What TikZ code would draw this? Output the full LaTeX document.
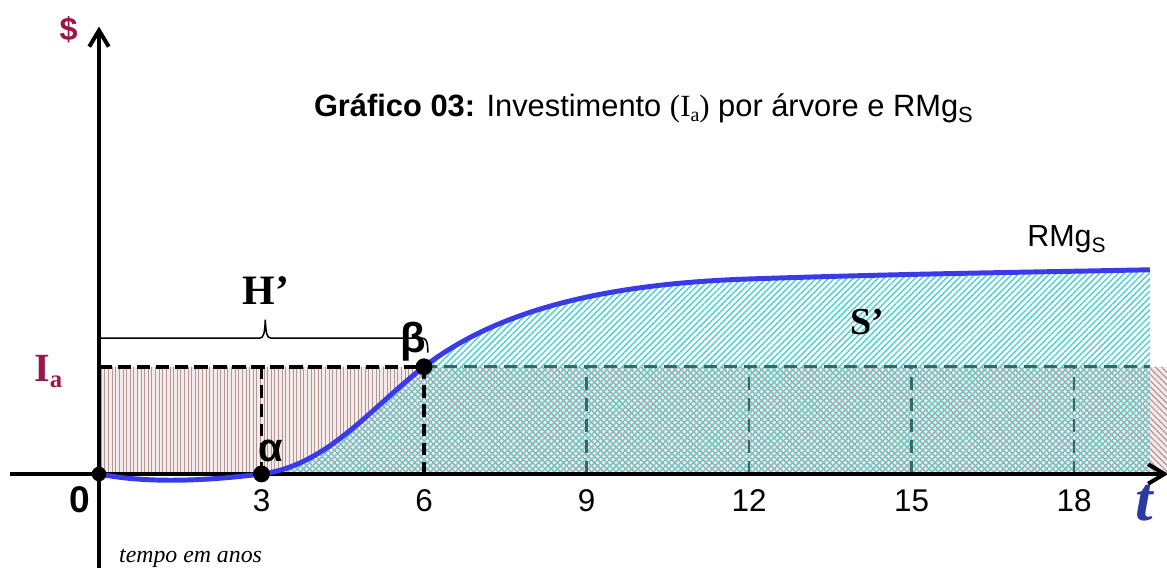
\documentclass[tikz,border=0pt]{standalone}
\usepackage{fontspec}
\setmainfont{Liberation Sans}
\newfontfamily\serifont{Liberation Serif}
\usetikzlibrary{calc,positioning,patterns.meta,arrows.meta}
\definecolor{vinho}{HTML}{9A1848}
\definecolor{curveblue}{HTML}{3A3AE8}
\definecolor{tblue}{HTML}{2B3A9E}
\definecolor{hatchcyan}{HTML}{55D2D2}
\definecolor{hatchbrown}{HTML}{B39898}
\definecolor{hatchpink}{HTML}{B49494}
\definecolor{dashteal}{HTML}{2F6B6B}
\definecolor{pinkbg}{HTML}{F4EAEA}
\newcommand{\Ialevel}{1.98}

\begin{document}
\begin{tikzpicture}[x=1cm,y=1cm,
    ptdot/.style={circle,fill=black,inner sep=0pt,minimum size=0.31cm},
    ticklbl/.style={font=\fontsize{16.5}{18}\selectfont,inner sep=0pt,anchor=base},
    vdashblack/.style={line width=1.6pt,dash pattern=on 6.5pt off 3.5pt},
    vdashteal/.style={dashteal,line width=1.4pt,dash pattern=on 7pt off 4pt}]
        \useasboundingbox (-1.8276,-1.735) rectangle (19.716,8.75);
        \coordinate (o) at (0,0);
        \coordinate (a) at (3,0);
        \coordinate (b) at (6,\Ialevel);
        \coordinate (e) at (19.4,3.77);
        \coordinate (r) at (19.716,\Ialevel);
        \coordinate (ia) at (0,\Ialevel);
        % areas
        \fill[pinkbg] (o) rectangle (r);
        \fill[pattern={Lines[angle=90,distance=1.9pt,line width=0.5pt]},pattern color=hatchbrown]
          (o) -- (a) .. controls (4.2,0.15) and (5,1.2) .. (b) -- (ia) -- cycle;
        \fill[pattern={Lines[angle=-45,distance=2.3pt,line width=0.6pt]},pattern color=hatchpink]
          (a) .. controls (4.2,0.15) and (5,1.2) .. (b) -- (r) -- (r |- o) -- cycle;
        \fill[pattern={Lines[angle=45,distance=2.3pt,line width=0.8pt]},pattern color=hatchcyan]
          (a) .. controls (4.2,0.15) and (5,1.2) .. (b) .. controls (7.2,2.9) and (9,3.5) .. (12,3.6)
          .. controls (15,3.7) and (17,3.72) .. (e) -- (e |- o) -- cycle;
        % tracejados
        \draw[line width=2.1pt,dash pattern=on 7pt off 3pt] (ia) -- (b);
        \draw[dashteal,line width=1.4pt,dash pattern=on 7pt off 3.5pt] (b) -- (e |- b);
        \foreach \x in {3,6}
          \draw[vdashblack] (\x,0) coordinate (v\x) -- (\x,\Ialevel);
        \foreach \x in {9,12,15,18}
          \draw[vdashteal] (\x,0) coordinate (v\x) -- (\x,\Ialevel);
        % eixos
        \draw[line width=2.1pt,-{Straight Barb[length=0.3cm,width=0.36cm]}] (0,-1.74) coordinate (ybot) -- (0,8.26) coordinate (ytop);
        \draw[line width=2.1pt,-{Straight Barb[length=0.3cm,width=0.36cm]}] (-1.64,0) coordinate (xleft) -- (19.74,0) coordinate (xright);
        % curva
        \draw[curveblue,line width=2.6pt] (o) .. controls (1,-0.2) and (2.2,-0.1) .. (a)
          .. controls (4.2,0.15) and (5,1.2) .. (b) .. controls (7.2,2.9) and (9,3.5) .. (12,3.6)
          .. controls (15,3.7) and (17,3.72) .. (e);
        % chave
        \coordinate (hl) at (0,2.51);
        \coordinate (htip) at (3.07,2.85);
        \coordinate (hr) at (6.07,2.24);
        \draw[line width=0.8pt] (hl) -- (2.97,2.51) .. controls (3.04,2.51) and (3.06,2.6) .. (htip)
          .. controls (3.08,2.6) and (3.10,2.51) .. (3.17,2.51) -- (5.95,2.51)
          .. controls (6.04,2.51) and (6.07,2.45) .. (hr);
        % pontos
        \node[ptdot,minimum size=0.27cm] (p0) at (o) {};
        \node[ptdot] (alpha) at (a) {};
        \node[ptdot] (beta) at (b) {};
        \node[font=\bfseries\fontsize{22}{24}\selectfont,inner sep=0pt] (betalbl) at ($(beta)+(-0.2,0.46)$) {β};
        \node[font=\bfseries\fontsize{21}{23}\selectfont,inner sep=0pt] (alphalbl) at ($(alpha)+(0.18,0.42)$) {α};
        % textos
        \node[font=\bfseries\fontsize{17}{19}\selectfont,text=vinho,inner sep=0pt] (dolar) at (-0.56,8.2) {\$};
        \node[font=\serifont\bfseries\fontsize{21}{23}\selectfont,text=vinho,inner sep=0pt,anchor=base west] (ialbl) at (-1.2,1.70)
          {I\raisebox{-0.3ex}{\fontsize{13}{14}\selectfont a}};
        \node[anchor=base,inner sep=0pt,font=\fontsize{16.2}{18}\selectfont] (titulo) at (10.05,6.6)
          {\textbf{Gráfico 03:} Investimento {\serifont(I\raisebox{-0.35ex}{\fontsize{10.5}{11}\selectfont a})} por árvore e RMg\raisebox{-0.35ex}{\fontsize{11.5}{12}\selectfont S}};
        \node[anchor=base,inner sep=0pt,font=\fontsize{16}{18}\selectfont] (rmglbl) at (17.86,4.2)
          {RMg\raisebox{-0.35ex}{\fontsize{11}{12}\selectfont S}};
        \node[anchor=base,inner sep=0pt,font=\serifont\bfseries\fontsize{22}{24}\selectfont] (hlbl) at (3.08,3.12) {H’};
        \node[anchor=base,inner sep=0pt,font=\serifont\bfseries\fontsize{20}{22}\selectfont] (slbl) at (14.19,2.57) {S’};
        \node[font=\bfseries\fontsize{19.5}{21}\selectfont,inner sep=0pt,anchor=base] (zero) at (-0.35,-0.72) {0};
        \foreach \x in {3,6,...,18}
          \node[ticklbl] (tick\x) at (\x,-0.69) {\x};
        \node[font=\serifont\bfseries\itshape\fontsize{33}{36}\selectfont,text=tblue,inner sep=0pt] (tlbl) at (19.3,-0.545) {t};
        \node[anchor=base,font=\serifont\itshape\fontsize{12.5}{14}\selectfont,inner sep=0pt] (tempo) at (1.69,-1.63) {tempo em anos};
      \end{tikzpicture}
\end{document}
